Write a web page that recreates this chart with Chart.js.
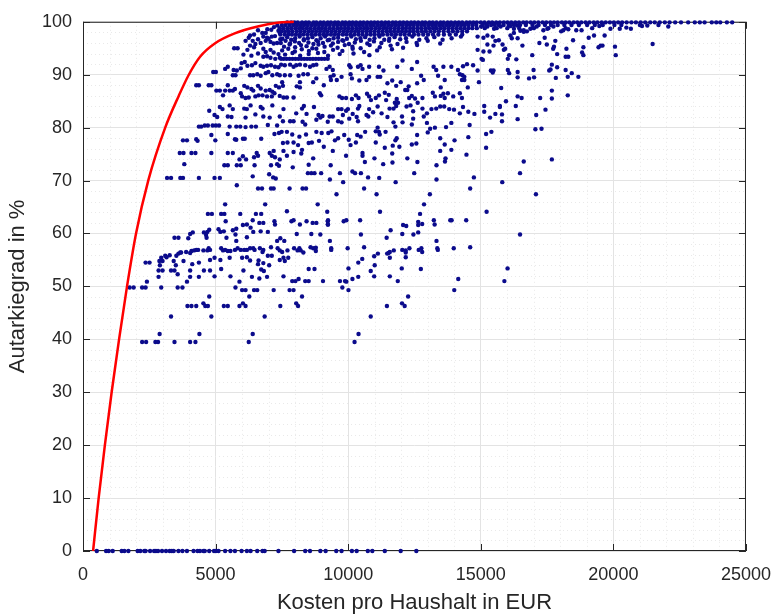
<!DOCTYPE html>
<html lang="de">

<head>
    <meta charset="UTF-8">
    <title>Autarkiegrad und Kosten pro Haushalt</title>
    <script src="https://cdn.jsdelivr.net/npm/chart.js"></script>
    <style>
        html, body { margin: 0; padding: 0; background: #fff; }
        .chart-item { width: 784px; height: 615px; }
    </style>
</head>

<body>
    <div class="chart-item"><canvas id="chart"></canvas></div>

    <script>
        // Red envelope curve (cost in EUR, autarky in %)
        const curveCost = [380, 590, 825, 1080, 1360, 1660, 2000, 2460, 3100, 3610, 3990, 4415, 4970, 5720, 6590, 7330, 7950];
        const curveAutarky = [0, 10, 20, 30, 40, 50, 60, 70, 80, 86, 90, 93.4, 95.9, 97.8, 99.1, 99.8, 100];

        // Households with 0 % autarky (costs only)
        const zeroCosts = [520, 870, 970, 1120, 1460, 1560, 1710, 2060, 2160, 2310, 2360, 2530, 2680, 2750, 2830, 2980, 3130, 3270, 3350, 3420, 3600, 3750, 3920, 4170, 4320, 4410, 4540, 4590, 4760, 4940, 5010, 5110, 5360, 5560, 5730, 5980, 6180, 6320, 6570, 6770, 6850, 7370, 7960, 8380, 8560, 8950, 9150, 9550, 9750, 10140, 10320, 10740, 10910, 11380, 11980, 12570];

        // [cost, autarky] pairs, 39-47 %
        const lowPoints = [[2230, 39.5], [2380, 39.5], [2730, 39.5], [2830, 39.5], [2890, 41.0], [3320, 44.3], [3450, 39.5], [3940, 46.3], [4090, 46.3], [4270, 46.3], [4040, 39.5], [4240, 39.5], [4390, 41.0], [4540, 46.8], [4610, 46.3], [4710, 46.3], [4840, 44.3], [5310, 46.3], [5460, 46.3], [5900, 46.3], [6030, 46.8], [6130, 46.3], [6250, 39.5], [6400, 41.0], [6850, 44.3], [7440, 46.3], [8040, 46.8], [8110, 46.3], [10240, 39.5], [10390, 41.0], [10850, 44.3], [11460, 46.3], [12030, 46.8], [12130, 46.3]];

        // 48-74 %
        const midPoints = [
            [3820, 73.1], [5330, 72.9], [5460, 72.9], [5800, 72.9], [5950, 72.9], [6470, 72.9], [7090, 72.9], [7320, 73.1], [7390, 72.8], [7910, 72.5], [8510, 73.0],
            [3170, 70.5], [3320, 70.5], [3670, 70.5], [3770, 70.5], [4370, 70.5], [4960, 70.5], [5160, 70.5], [6400, 70.8], [7020, 71.2], [7170, 70.6], [7270, 70.4], [8480, 71.4], [8610, 71.4], [8730, 71.4], [8980, 71.4],
            [5800, 69.1], [6600, 68.5], [6750, 68.5], [7090, 68.5], [7190, 68.5], [7790, 68.5], [8280, 68.5], [8410, 68.5],
            [5360, 65.5], [6870, 65.5], [8850, 65.5],
            [4710, 63.7], [4860, 63.7], [5210, 63.7], [5330, 63.7], [5930, 63.7], [6520, 63.7], [6720, 63.7], [7690, 64.2],
            [5380, 62.3], [6400, 62.5], [6650, 62.0], [6800, 62.0], [7220, 62.3], [7240, 61.7], [7860, 62.3], [7940, 62.5], [8180, 61.7], [8430, 62.3], [8660, 62.0], [8800, 62.0], [9230, 62.3], [9230, 61.7],
            [6030, 61.6], [6180, 61.7], [6320, 61.1], [5650, 60.6], [5780, 60.9], [6420, 60.3], [6700, 60.4], [6970, 60.3], [4690, 60.3], [4760, 60.7], [5110, 60.8], [5180, 60.3], [5310, 60.4],
            [4040, 59.9], [4140, 60.2], [4560, 60.2], [4640, 59.7], [5750, 59.8], [8060, 59.9], [8610, 59.9], [8950, 59.8],
            [3450, 59.2], [3600, 59.2], [3970, 59.1], [4660, 59.2], [5410, 59.2], [5780, 58.6], [6180, 59.3], [7440, 59.1], [7320, 58.6], [7590, 58.6],
            [4090, 56.7], [4190, 56.8], [4270, 56.9], [4340, 56.9], [4540, 56.8], [4690, 56.8], [4790, 56.9], [4740, 57.2], [5210, 57.2], [5280, 56.8], [5360, 56.9], [5460, 56.7], [5560, 56.7], [5730, 56.9], [5830, 57.2], [5950, 56.9], [6080, 56.9], [6180, 56.9], [6300, 57.2], [6420, 57.2], [6470, 56.9], [6670, 57.2], [6800, 56.9], [6770, 56.5], [7090, 57.4], [7340, 57.2], [7420, 56.8], [7510, 56.5], [7710, 56.8], [7960, 57.2], [8090, 56.8], [8160, 57.2], [8210, 56.8], [8310, 56.4], [8580, 57.4], [8680, 57.2], [8780, 57.3], [8780, 56.7],
            [3890, 56.5], [4040, 56.3], [3670, 56.4], [3600, 56.2], [3100, 55.8], [2950, 55.4], [3150, 55.5], [3270, 55.9], [3520, 55.8], [3700, 56.4],
            [3000, 54.8], [2880, 54.8], [2360, 54.5], [2510, 54.5], [2900, 54.0], [3420, 54.8], [3500, 54.0], [3790, 54.8], [4370, 54.5], [4120, 54.2], [4790, 55.0], [4960, 55.4], [5180, 55.0], [5530, 55.4], [6000, 55.4], [6180, 55.5], [6300, 54.9], [6620, 54.9], [6970, 55.8], [7120, 55.8], [7420, 55.0], [7560, 55.4], [7740, 55.4], [7610, 54.8], [6600, 54.2], [6800, 54.4], [7020, 54.0],
            [2850, 53.0], [3000, 53.0], [3320, 53.0], [3450, 53.0], [4040, 53.0], [4560, 53.0], [4790, 53.0], [5210, 53.3], [6050, 53.0], [6720, 53.2], [6820, 52.9], [8510, 53.3], [8730, 53.3],
            [2850, 51.8], [3570, 52.3], [4040, 51.8], [4370, 51.8], [4960, 51.9], [5560, 51.9], [6370, 51.8], [6650, 51.5], [6940, 51.8], [7560, 51.9], [8130, 51.4], [7890, 51.0], [8010, 51.0], [8380, 51.0], [8510, 51.0], [9050, 51.0], [2410, 50.9], [3920, 50.9], [5900, 50.9],
            [1760, 49.8], [1910, 49.8], [2230, 49.8], [2360, 49.8], [2950, 49.8], [3570, 49.8], [3750, 49.8], [5750, 49.8], [6000, 49.3], [6130, 49.3], [6450, 49.3], [6570, 49.3], [7190, 49.3], [7790, 49.3], [7940, 49.3],
            [4760, 48.1], [6270, 48.1], [8260, 48.1],
            [9340, 72.9], [10630, 73.5], [11320, 73.1], [11670, 73.4], [12610, 73.5], [13330, 72.9], [13650, 73.6],
            [9690, 71.4], [10160, 71.7], [10260, 71.4], [10480, 71.4], [10750, 70.6], [11170, 70.5], [12490, 71.4], [16480, 71.4],
            [9310, 70.2], [9810, 69.7], [11790, 69.7], [13330, 70.2], [14740, 70.6], [15810, 69.7],
            [9560, 67.4], [10600, 68.5], [11070, 67.4], [13080, 67.4], [14600, 68.5], [17080, 67.4],
            [12860, 65.5], [9210, 64.1], [11200, 64.1], [15220, 64.1], [12710, 63.7],
            [9240, 62.5], [9240, 61.7], [9830, 62.3], [9930, 62.5], [10450, 62.5], [12070, 61.6], [12190, 61.4], [12640, 62.2], [12640, 61.6], [12790, 61.8], [13230, 62.5], [13260, 61.7], [13850, 62.5], [13900, 62.5], [14450, 62.5],
            [10480, 59.8], [11600, 60.6], [12040, 59.9], [12460, 59.8], [12640, 60.2], [16480, 59.8],
            [9310, 58.6], [11450, 59.2], [13330, 58.6],
            [9360, 57.2], [9360, 56.9], [9980, 57.2], [10600, 57.4], [11120, 56.2], [11520, 56.3], [11570, 56.5], [11470, 56.2], [11720, 56.8], [12040, 56.9], [12170, 56.8], [12170, 56.4], [12310, 57.2], [12660, 56.9], [12760, 57.2], [12790, 56.5], [13360, 57.2], [13380, 56.9], [13980, 57.2], [14600, 57.4],
            [10980, 55.7], [10530, 55.2], [10380, 54.5], [11570, 55.4], [12170, 55.5],
            [10010, 53.4], [10850, 52.9], [11000, 54.0], [12020, 53.4], [12740, 53.3], [16010, 53.4],
            [10380, 51.8], [10980, 51.9], [11570, 51.9], [10160, 51.4], [9690, 51.0], [9880, 51.0], [9930, 50.9], [11870, 51.0], [14150, 51.4], [15890, 51.0],
            [9780, 49.8], [10010, 49.3], [14000, 49.3], [12260, 48.1]
        ];

        // 74-99 %, left part (up to ~7400 EUR)
        const upperLeftPoints = [
            [6760, 97.9], [6890, 97.9], [6800, 97.2], [6940, 97.0], [7120, 97.2], [7240, 97.3], [7370, 98.3], [7420, 97.9], [6250, 97.0], [6400, 96.4], [6130, 96.4], [6700, 96.0], [6890, 96.4], [7070, 96.2], [7190, 95.9], [7320, 96.0], [7440, 96.7],
            [7200, 99.0], [7330, 99.3], [6950, 98.6], [7100, 98.5], [6600, 98.4], [6450, 97.6], [6300, 97.4], [7000, 96.8], [6600, 96.7], [6500, 95.8], [6300, 95.5], [6050, 93.8], [6350, 93.6], [6600, 94.0],
            [5700, 95.0], [5830, 95.0], [6200, 94.7], [6450, 95.2], [6800, 94.9], [6890, 94.3], [7070, 94.7], [7190, 94.2], [7370, 93.9], [6800, 93.4], [6940, 93.5], [7070, 93.2], [7250, 93.0], [7420, 93.2],
            [5980, 92.2], [6100, 92.4], [6200, 91.7], [6370, 91.8], [6500, 92.2], [6700, 91.7], [6800, 91.5], [6940, 91.7], [7090, 91.8], [7240, 91.5], [7370, 91.4], [5460, 91.5], [5360, 91.1], [5680, 90.9], [5800, 90.8], [5950, 91.2], [4910, 90.5], [5010, 90.5],
            [5650, 89.9], [5750, 89.9], [6300, 89.9], [6420, 89.9], [6570, 90.1], [6700, 89.8], [6890, 90.3], [6990, 90.5], [7140, 89.9], [7320, 90.1], [7420, 89.9],
            [4270, 88.0], [4370, 88.0], [4740, 88.0], [4840, 88.0], [5030, 87.0], [5160, 87.0], [5360, 87.0], [5460, 88.0], [5530, 87.0], [5650, 87.0], [5730, 87.3], [5950, 86.5], [6080, 87.9], [6200, 87.6], [6350, 87.3], [6420, 87.0], [6600, 87.9], [6700, 87.4], [6890, 87.0], [7040, 87.1], [7140, 86.8], [7270, 87.9], [7390, 87.6],
            [5280, 86.1], [6000, 85.9], [6130, 85.6], [6250, 85.7], [6500, 85.9], [6620, 86.1], [6770, 86.1], [6940, 85.9], [7120, 85.9], [7220, 86.5], [7420, 86.0],
            [5160, 83.9], [5260, 83.5], [5530, 84.2], [5650, 83.5], [6080, 83.6], [6180, 83.5], [6320, 84.2], [6700, 83.9], [6770, 83.6], [7140, 84.2], [4760, 83.2], [4960, 82.4], [5060, 82.0], [5460, 82.1], [5600, 82.0], [6130, 81.9], [6500, 82.5], [6800, 82.1], [7040, 81.9], [7420, 82.1],
            [4370, 80.2], [4460, 80.2], [4590, 80.4], [4710, 80.4], [4890, 80.4], [5010, 80.4], [5130, 80.4], [5530, 80.2], [5780, 80.2], [5930, 80.2], [6130, 80.1], [6350, 80.2], [6520, 80.2], [6970, 80.5], [7320, 80.4],
            [4270, 77.8], [4320, 77.5], [3770, 77.6], [3920, 77.6], [4840, 78.6], [4990, 77.6], [5460, 78.8], [5730, 77.8], [5780, 77.7], [6030, 77.9], [6100, 77.9], [6720, 77.9], [7220, 78.8], [7390, 79.0],
            [3650, 75.2], [3790, 75.2], [4090, 75.2], [4240, 75.2], [4840, 75.2], [5460, 75.2], [5650, 75.2], [6030, 74.6], [5900, 74.0], [6150, 74.0], [6550, 75.2], [6600, 74.7], [6450, 74.4], [7040, 75.2], [7120, 74.7], [7190, 75.6], [7240, 74.4], [7420, 74.0]
        ];

        // 74-97 %, centre part (7400-14900 EUR)
        const upperMidPoints = [
            [7520, 96.8], [7700, 97.1], [7850, 96.6], [8000, 96.9], [8170, 97.2], [8330, 96.7], [8480, 96.9], [8650, 97.1], [8800, 96.5], [8960, 96.9], [9130, 97.2], [9290, 96.6], [9450, 96.9], [9620, 97.0], [9780, 96.5], [9950, 96.8], [10120, 97.2], [10290, 96.7], [10460, 96.9], [10640, 97.1], [10810, 96.6], [10990, 96.9], [11180, 97.2], [11360, 96.6], [11550, 96.8], [11750, 97.1], [11960, 96.7], [12180, 96.9], [12420, 97.2], [12680, 96.6], [12950, 96.9], [13250, 97.1], [13560, 96.6], [13900, 96.9], [14250, 97.2],
            [7460, 96.0], [7640, 96.4], [7810, 95.9], [7990, 96.3], [8150, 96.0], [8330, 96.5], [8500, 96.1], [8690, 95.8], [8860, 96.3], [9050, 96.0], [9230, 96.5], [9420, 95.9], [9620, 96.2], [9820, 96.4], [10030, 95.8], [10250, 96.1], [10480, 96.4], [10720, 95.9], [10970, 96.3], [11250, 96.0], [11540, 96.4], [11860, 95.8], [12200, 96.2], [12580, 96.0], [13000, 96.4], [13470, 95.9],
            [7580, 95.3], [7790, 95.7], [8000, 95.2], [8220, 95.6], [8430, 95.4], [8650, 95.0], [8880, 95.7], [9110, 95.3], [9350, 95.5], [9600, 95.1], [9870, 95.6], [10160, 95.3], [10470, 95.0], [10810, 95.6], [11190, 95.2], [11600, 95.5], [12070, 95.1], [12600, 95.6],
            [7510, 94.6], [7740, 94.9], [7990, 94.4], [8250, 94.8], [8520, 94.5], [8800, 94.9], [9100, 94.3], [9430, 94.7], [9780, 94.5], [10170, 94.9], [10600, 94.3], [11090, 94.6], [11650, 94.8],
            [7620, 93.8], [7900, 94.1], [8190, 93.6], [8510, 93.9], [8860, 94.1], [9240, 93.6], [9680, 93.9], [10200, 94.0], [10800, 93.7],
            [7470, 91.9], [7610, 91.8], [7810, 91.9], [7940, 91.5], [8040, 91.8], [8180, 91.9], [8380, 91.8], [8560, 91.5], [8680, 91.8], [8800, 91.9], [9300, 91.5], [9180, 91.1], [9420, 90.9], [9450, 89.9], [10040, 91.8], [10090, 91.4], [10370, 91.5], [10470, 91.8], [10540, 91.1], [10790, 91.5], [11160, 91.5], [11330, 90.8], [11850, 91.5], [12050, 92.7], [12400, 91.1], [12600, 92.4], [13220, 91.5], [13320, 90.9], [13590, 91.5], [13890, 91.5], [14140, 90.9], [14330, 91.6], [14480, 92.0], [14710, 91.8],
            [14210, 90.1], [14310, 89.9], [14290, 89.0], [14380, 89.0], [13640, 89.0], [13490, 87.6], [13390, 89.8], [12750, 89.8], [12850, 89.0], [12600, 88.4], [12280, 87.8], [12150, 87.1], [11980, 88.6], [11810, 87.9], [11660, 88.9], [11480, 88.4], [11210, 89.6], [11110, 89.6], [10790, 89.6], [10690, 89.0], [10420, 88.9], [10090, 90.1], [10140, 89.3], [9750, 89.6], [9570, 89.0], [9330, 89.6], [9350, 89.0], [9080, 88.0], [8930, 86.5], [8980, 86.1], [8800, 89.3], [8680, 88.6], [8480, 90.1], [8310, 90.1], [8180, 88.6], [8130, 89.8], [8060, 87.8], [7810, 89.9], [7610, 89.9], [7510, 88.6], [7540, 87.9], [7560, 85.7], [7690, 85.7], [7940, 85.7], [8180, 87.6],
            [9670, 85.9], [9770, 85.6], [9920, 85.6], [10140, 85.4], [10290, 86.1], [10390, 85.6], [10710, 86.4], [10790, 85.9], [10860, 85.2], [11040, 85.6], [11160, 86.1], [11380, 86.6], [11430, 85.2], [11530, 86.2], [11760, 84.7], [11830, 85.4], [12230, 87.1], [12300, 85.6], [12400, 86.0], [12520, 85.5], [12800, 85.6], [13190, 86.6], [13270, 85.9], [13490, 86.0], [13590, 86.4], [13640, 85.6], [13760, 86.5], [13960, 85.9], [14210, 86.5], [14290, 85.6], [14510, 87.6], [14380, 89.6],
            [7560, 83.5], [8040, 82.7], [8260, 83.6], [8330, 84.1], [8430, 82.6], [8710, 83.9], [8880, 82.4], [9030, 82.2], [9300, 82.1], [9420, 82.1], [9620, 83.5], [9750, 83.5], [9800, 82.4], [9920, 83.2], [9990, 83.5], [10170, 82.6], [10370, 83.6], [10420, 84.1], [10690, 82.4], [10790, 83.5], [10940, 82.9], [11110, 84.0], [11260, 82.7], [11560, 83.6], [11710, 83.6], [11810, 84.1], [11880, 84.7], [12030, 82.1], [12200, 84.0], [12350, 84.2], [12450, 83.1], [12620, 84.7], [12800, 83.6], [12970, 82.7], [13140, 83.5], [13320, 83.6], [13470, 84.0], [13620, 84.0], [13810, 83.5], [13990, 83.4], [14210, 82.7], [14330, 83.9], [14530, 83.0], [14760, 82.6],
            [7540, 81.2], [7810, 81.2], [7940, 81.2], [8280, 81.1], [8380, 80.6], [8800, 81.5], [8950, 81.9], [9230, 81.1], [9620, 81.2], [9750, 81.0], [10040, 81.7], [10320, 82.0], [10370, 81.2], [10760, 82.1], [11110, 80.0], [11160, 79.2], [11480, 82.0], [11710, 81.0], [11780, 80.2], [12050, 81.0], [12400, 80.6], [12450, 81.7], [12850, 82.1], [12970, 80.9], [13090, 79.8], [13270, 80.0], [13690, 80.1], [13890, 80.9], [14580, 80.5],
            [7490, 79.2], [7690, 79.2], [7890, 78.7], [8160, 78.3], [8410, 78.7], [8800, 79.2], [9000, 79.0], [9250, 79.0], [9370, 79.3], [9500, 77.6], [9620, 78.0], [9850, 78.6], [10020, 77.7], [10340, 78.6], [10470, 78.3], [10640, 79.2], [11040, 79.3], [11190, 78.7], [11410, 79.2], [11780, 77.6], [11830, 78.0], [12600, 78.6], [13000, 79.1], [13470, 78.0], [14010, 77.6], [14530, 78.2],
            [7540, 77.1], [7710, 77.2], [7940, 77.2], [8110, 76.7], [8260, 75.8], [8510, 77.1], [8630, 77.2], [8900, 77.5], [9080, 76.4], [9420, 75.6], [9920, 74.7], [10090, 76.7], [10290, 77.2], [10540, 75.2], [10540, 74.7], [11040, 77.2], [11380, 76.2], [11680, 76.6], [11930, 76.4], [12400, 76.8], [12570, 77.0], [13470, 75.6], [13640, 76.8], [13890, 75.8], [14460, 74.9],
            [7560, 75.6], [7690, 74.7], [7940, 75.4], [8230, 75.1], [8680, 74.2], [10990, 74.2], [11660, 75.1], [12230, 74.2], [13670, 74.2]
        ];

        // right part (above 14900 EUR)
        const upperRightPoints = [
            [15010, 99.1], [15250, 99.1], [15500, 98.7], [15750, 99.1], [16120, 99.2], [16250, 98.7], [16370, 99.3], [16620, 98.4], [16740, 98.2], [16870, 98.7], [17110, 99.1], [17360, 98.4], [17510, 98.7], [17740, 99.1], [18030, 98.2], [18110, 98.4], [18300, 98.6], [18600, 98.4], [18800, 98.4], [19200, 98.8], [19470, 99.2], [19890, 98.7], [20040, 99.4], [20240, 98.7], [20490, 98.9], [20660, 98.7], [21080, 99.2], [21280, 99.3], [22070, 99.1],
            [14880, 97.2], [15100, 97.0], [15250, 97.4], [15450, 97.2], [15550, 96.4], [15680, 96.5], [15820, 95.7], [15480, 95.5], [15250, 95.7], [16120, 97.4], [16170, 96.9], [16250, 97.9], [16390, 96.9], [16490, 98.3], [16620, 98.1], [16570, 95.5], [17210, 96.0], [17410, 97.0], [17490, 95.7], [17760, 95.3], [17810, 96.4], [18480, 96.5], [19070, 97.0], [19270, 97.4], [19670, 97.4], [21480, 95.8], [17730, 94.9],
            [14880, 94.7], [15100, 94.4], [15330, 94.4], [15870, 94.7], [15920, 94.9], [16070, 93.7], [16020, 93.0], [16340, 92.9], [15030, 93.0], [15080, 92.8], [16940, 93.7], [17880, 93.9], [18230, 94.9], [18300, 93.4], [18200, 93.4], [18820, 94.2], [18870, 95.2], [18870, 93.7], [19440, 95.2], [19520, 95.5], [19590, 95.5], [20060, 95.3], [20090, 93.7],
            [14880, 90.8], [14930, 88.6], [15380, 90.8], [15480, 90.8], [15450, 90.4], [16020, 90.9], [16070, 90.3], [16390, 90.5], [16390, 89.5], [16820, 89.3], [16990, 90.9], [17010, 89.5], [17580, 90.8], [17630, 91.0], [17680, 91.9], [17880, 91.4], [17830, 89.4], [18200, 90.9], [18280, 89.6], [18430, 90.3], [18680, 89.6],
            [15770, 87.5], [15950, 85.0], [16390, 85.9], [16540, 85.6], [17240, 85.6], [17680, 87.0], [17680, 85.5], [18280, 86.1],
            [15130, 84.1], [15130, 83.0], [15720, 84.1], [15720, 83.9], [16320, 84.1], [15550, 82.6], [15800, 82.5], [15800, 81.2], [15350, 81.9], [16390, 81.6], [17090, 82.4], [17440, 83.4],
            [15200, 78.8], [15400, 79.2], [17060, 79.7], [17290, 79.8], [15200, 76.2], [16620, 73.6], [17680, 74.0]
        ];

        // dense band near 100 %: one row of costs per autarky level
        const bandLevels = [99.9, 99.4, 98.8, 98.2, 97.6, 93.0];
        const bandCosts = [
            [7700, 7850, 7980, 8100, 8260, 8400, 8520, 8690, 8800, 8950, 9080, 9230, 9350, 9500, 9620, 9780, 9900, 10040, 10170, 10300, 10450, 10580, 10720, 10860, 10990, 11120, 11260, 11400, 11530, 11680, 11800, 11950, 12080, 12220, 12370, 12500, 12640, 12790, 12910, 13060, 13190, 13330, 13480, 13600, 13750, 13880, 14030, 14170, 14300, 14460, 14590, 14720, 14850, 15000, 15140, 15300, 15430, 15580, 15720, 15870, 16010, 16150, 16300, 16440, 16600, 16730, 16880, 17020, 17170, 17330, 17470, 17620, 17760, 17900, 18060, 18200, 18340, 18500, 18640, 18790, 18950, 19100, 19260, 19400, 19560, 19710, 19870, 20020, 20180, 20330, 20500, 20680, 20850, 21030, 21200, 21390, 21560, 21750, 21940, 22120, 22330, 22550, 22820, 23070, 23260, 23440, 23710, 23880, 24030, 24280, 24480],
            [7500, 7640, 7790, 7930, 8070, 8210, 8340, 8480, 8630, 8760, 8900, 9040, 9170, 9310, 9460, 9590, 9730, 9870, 10000, 10140, 10280, 10410, 10550, 10690, 10830, 10960, 11100, 11240, 11370, 11510, 11650, 11790, 11920, 12060, 12200, 12330, 12470, 12610, 12750, 12880, 13020, 13160, 13290, 13430, 13570, 13710, 13840, 13980, 14120, 14260, 14400, 14540, 14690, 14830, 15080, 15230, 15390, 15530, 15680, 15860, 16050, 16250, 16480, 16700, 16950, 17180, 17420, 17650, 17900, 18150, 18420, 18700, 19010, 19300, 19600, 20300, 21000, 21700],
            [7420, 7560, 7720, 7860, 8010, 8150, 8290, 8440, 8580, 8730, 8870, 9010, 9150, 9300, 9440, 9590, 9730, 9880, 10020, 10160, 10310, 10450, 10600, 10740, 10880, 11030, 11170, 11320, 11460, 11600, 11750, 11890, 12040, 12180, 12330, 12470, 12620, 12760, 12910, 13050, 13200, 13340, 13490, 13630, 13780, 13930, 14080, 14230, 14380, 14530, 14680, 14850, 15150, 15600, 16000, 16450, 17000, 17550, 18200],
            [7480, 7620, 7760, 7900, 8060, 8200, 8350, 8500, 8640, 8790, 8940, 9090, 9230, 9380, 9520, 9670, 9820, 9960, 10110, 10260, 10400, 10550, 10700, 10840, 10990, 11140, 11290, 11440, 11580, 11730, 11880, 12030, 12180, 12330, 12470, 12620, 12780, 12930, 13100, 13260, 13420, 13600, 13780, 13950, 14120, 14300, 14480],
            [7440, 7600, 7740, 7880, 8030, 8180, 8320, 8470, 8620, 8760, 8910, 9060, 9200, 9350, 9500, 9640, 9800, 9940, 10090, 10240, 10390, 10540, 10700, 10850, 11000, 11160, 11310, 11480, 11640, 11800, 11970, 12130, 12300, 12480, 12650, 12830, 13010, 13200, 13400, 13610, 13830, 14060, 14300],
            [7470, 7570, 7680, 7790, 7900, 8010, 8120, 8230, 8340, 8450, 8560, 8670, 8780, 8890, 9000, 9110, 9230]
        ];

        // Build scatter table from the arrays above
        const households = [];
        zeroCosts.forEach(c => households.push({ x: c, y: 0 }));
        [lowPoints, midPoints, upperLeftPoints, upperMidPoints, upperRightPoints].forEach(list => {
            list.forEach(([c, a]) => households.push({ x: c, y: a }));
        });
        bandLevels.forEach((level, i) => {
            bandCosts[i].forEach(c => households.push({ x: c, y: level }));
        });
        const curve = curveCost.map((c, i) => ({ x: c, y: curveAutarky[i] }));

        const textColor = '#262626';
        const fontFamily = 'Liberation Sans, Arial, sans-serif';

        // box around the axes, inward ticks and dotted minor grid (MATLAB style)
        const axesBox = {
            id: 'axesBox',
            beforeDatasetsDraw(chart) {
                const { ctx, chartArea: a, scales: { x, y } } = chart;
                ctx.save();
                ctx.lineWidth = 1;
                ctx.strokeStyle = '#e9e9e9';
                ctx.setLineDash([1, 3]);
                for (let v = 1000; v < 25000; v += 1000) {
                    if (v % 5000 === 0) continue;
                    const px = Math.round(x.getPixelForValue(v)) + 0.5;
                    ctx.beginPath(); ctx.moveTo(px, a.top); ctx.lineTo(px, a.bottom); ctx.stroke();
                }
                for (let v = 2; v < 100; v += 2) {
                    if (v % 10 === 0) continue;
                    const py = Math.round(y.getPixelForValue(v)) + 0.5;
                    ctx.beginPath(); ctx.moveTo(a.left, py); ctx.lineTo(a.right, py); ctx.stroke();
                }
                ctx.setLineDash([]);
                ctx.strokeStyle = textColor;
                ctx.strokeRect(a.left + 0.5, a.top + 0.5, a.right - a.left - 1, a.bottom - a.top - 1);
                const tick = 7;
                ctx.beginPath();
                x.ticks.forEach(t => {
                    const px = Math.round(x.getPixelForValue(t.value)) + 0.5;
                    ctx.moveTo(px, a.bottom); ctx.lineTo(px, a.bottom - tick);
                    ctx.moveTo(px, a.top); ctx.lineTo(px, a.top + tick);
                });
                y.ticks.forEach(t => {
                    const py = Math.round(y.getPixelForValue(t.value)) + 0.5;
                    ctx.moveTo(a.left, py); ctx.lineTo(a.left + tick, py);
                    ctx.moveTo(a.right, py); ctx.lineTo(a.right - tick, py);
                });
                ctx.stroke();
                ctx.restore();
            }
        };

        new Chart(document.getElementById('chart'), {
            type: 'scatter',
            data: {
                datasets: [{
                    label: 'Grenze',
                    data: curve,
                    showLine: true,
                    borderColor: '#ff0000',
                    borderWidth: 2.5,
                    pointRadius: 0,
                    cubicInterpolationMode: 'monotone',
                    clip: false
                }, {
                    label: 'Haushalte',
                    data: households,
                    backgroundColor: '#0b0b8c',
                    borderWidth: 0,
                    pointRadius: 2.2,
                    clip: false
                }]
            },
            options: {
                responsive: true,
                maintainAspectRatio: false,
                animation: false,
                layout: { padding: { top: 20, right: 29, bottom: 0, left: 0 } },
                plugins: {
                    legend: { display: false },
                    tooltip: { enabled: false }
                },
                scales: {
                    x: {
                        type: 'linear',
                        min: 0,
                        max: 25000,
                        afterFit: scale => { scale.height = 64; },
                        ticks: {
                            stepSize: 5000,
                            autoSkip: false,
                            maxRotation: 0,
                            padding: 13,
                            color: textColor,
                            font: { family: fontFamily, size: 18 },
                            callback: value => String(value)
                        },
                        grid: { color: '#e3e3e3', drawTicks: false },
                        border: { display: false },
                        title: {
                            display: true,
                            text: 'Kosten pro Haushalt in EUR',
                            color: textColor,
                            font: { family: fontFamily, size: 22 },
                            padding: { top: 0, bottom: -1 }
                        }
                    },
                    y: {
                        min: 0,
                        max: 100,
                        afterFit: scale => { scale.width = 83; },
                        ticks: {
                            stepSize: 10,
                            autoSkip: false,
                            padding: 11,
                            color: textColor,
                            font: { family: fontFamily, size: 18 }
                        },
                        grid: { color: '#e3e3e3', drawTicks: false },
                        border: { display: false },
                        title: {
                            display: true,
                            text: 'Autarkiegrad in %',
                            color: textColor,
                            font: { family: fontFamily, size: 22 },
                            padding: { top: 5, bottom: 0 }
                        }
                    }
                }
            },
            plugins: [axesBox]
        });
    </script>
</body>

</html>
